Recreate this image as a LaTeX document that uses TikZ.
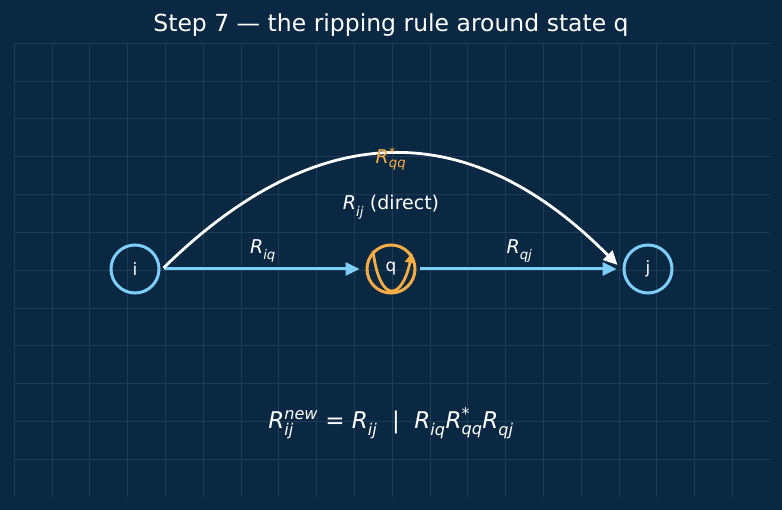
\documentclass[tikz,border=0pt]{standalone}
\usepackage{amsmath}
\usepackage{fontspec}
\setmainfont{DejaVu Sans}
\usetikzlibrary{arrows.meta,positioning,calc}
\definecolor{bgNavy}{RGB}{11,40,66}
\definecolor{gridLine}{RGB}{30,60,86}
\definecolor{stateBlue}{RGB}{125,206,250}
\definecolor{loopOrange}{RGB}{246,173,70}
\tikzset{
  state/.style={circle, draw=stateBlue, line width=3pt, minimum size=48pt, inner sep=0pt, text=white, font=\fontsize{17}{20}\selectfont},
  ripped/.style={state, draw=loopOrange},
  arrow/.style={-{Triangle[length=14pt,width=13pt]}, line width=3pt, draw=stateBlue},
  bigarc/.style={-{Triangle[length=14pt,width=13pt]}, line width=2.8pt, draw=white},
  lbl/.style={text=white, font=\fontsize{19}{22}\selectfont, inner sep=1pt},
  gridrule/.style={draw=gridLine, line width=0.6pt}
}
\newcommand{\Rsym}[2][]{\textit{R}\ensuremath{_{\text{\itshape #2}}^{\text{#1}}}}

\begin{document}
\begin{tikzpicture}[x=1pt,y=-1pt]
  \fill[bgNavy] (0,0) rectangle (782,510);
  \useasboundingbox (0,0) rectangle (782,510);
  % background grid
  \foreach \gx in {0,...,19} {
    \draw[gridrule] ({14+37.8*\gx},43) -- ({14+37.8*\gx},497);
  }
  \foreach \gy in {0,...,11} {
    \draw[gridrule] (14,{43+37.83*\gy}) -- (770,{43+37.83*\gy});
  }

  \node[text=white, font=\fontsize{23.5}{28}\selectfont] (title) at (391,25) {Step 7 — the ripping rule around state q};

  \node[state] (i) at (135,269) {i};
  \node[ripped] (q) at (391,269) {q};
  \node[state] (j) at (648,269) {j};

  \draw[arrow, shorten <=3pt, shorten >=6pt] (i) -- node[lbl, above=4pt]{\Rsym{iq}} (q);
  \draw[arrow, shorten <=3pt, shorten >=6pt] (q) -- node[lbl, above=4pt]{\Rsym{qj}} (j);

  \coordinate (arcstart) at ($(i.east)+(3,-1)$);
  \coordinate (arcend) at ($(j.west)+(-5,-4)$);
  \draw[bigarc] (arcstart) .. controls (318,116) and (470,116) .. (arcend);

  \node[lbl, text=loopOrange] (rqq) at (391,159) {\Rsym[*]{qq}};
  \node[lbl] (rij) at (391,207) {\Rsym{ij} (direct)};

  % self loop drawn inside q
  \coordinate (loopin) at ($(q)+(-18,-18)$);
  \coordinate (loopout) at ($(q)+(21,-16)$);
  \draw[-{Triangle[length=10pt,width=10pt]}, line width=2.8pt, draw=loopOrange]
    (loopin) .. controls ($(q)+(-11,36)$) and ($(q)+(11,31)$) .. (loopout);

  \node[text=white, font=\fontsize{23}{27}\selectfont] (rule) at (391,423)
    {\Rsym[\itshape new]{ij} = \Rsym{ij} \ | \ \Rsym{iq}\Rsym[*]{qq}\Rsym{qj}};
\end{tikzpicture}
\end{document}
